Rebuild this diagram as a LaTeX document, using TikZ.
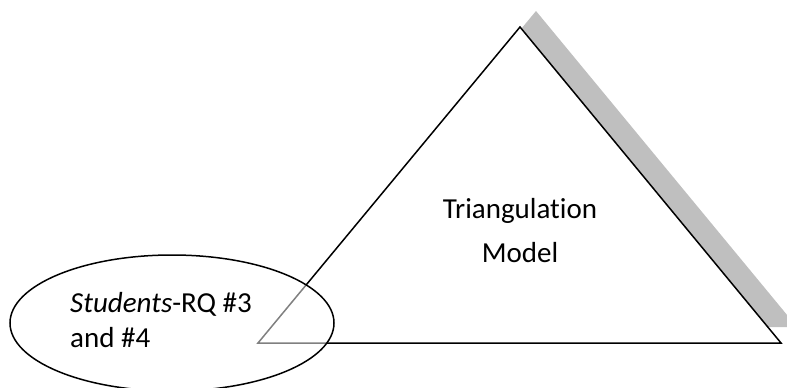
\documentclass[tikz,border=0pt]{standalone}
\usepackage{fontspec}
\setmainfont[Ligatures=NoCommon]{Carlito}
\usetikzlibrary{calc}
\begin{document}
\begin{tikzpicture}[x=1pt,y=-1pt,
  shadowfill/.style={fill=black!25,draw=none},
  tri/.style={fill=white,draw=black,line width=1.5pt,line join=miter},
  ovalshape/.style={fill=white,fill opacity=0.5,draw=black,draw opacity=1,line width=1.5pt},
  lbl/.style={inner sep=0pt,font=\fontsize{29}{35}\selectfont}]
\useasboundingbox (0,0) rectangle (787,388);
\clip (0,0) rectangle (787,388);
% triangle corners
\coordinate (A) at (520,27);
\coordinate (L) at (258,343);
\coordinate (R) at (781,343);
% shadow
\fill[shadowfill] ($(A)+(16,-16)$) -- ($(R)+(16,-16)$) -- ($(L)+(16,-16)$) -- cycle;
% triangle
\draw[tri] (A) -- (R) -- (L) -- cycle;
% text in triangle
\node[lbl,anchor=base] (t1) at (520,218) {Triangulation};
\node[lbl,anchor=base] (t2) at (520,262) {Model};
% ellipse
\draw[ovalshape] (172,323) ellipse [x radius=162,y radius=68];
\node[lbl,anchor=base west] (s1) at (70,312) {\textit{Students}-RQ \#3};
\node[lbl,anchor=base west] (s2) at (70,347) {and \#4};
\end{tikzpicture}
\end{document}
